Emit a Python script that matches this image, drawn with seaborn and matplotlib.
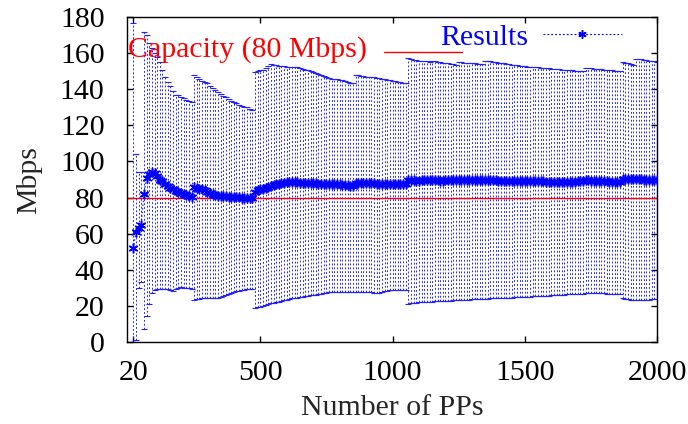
import numpy as np
import matplotlib
matplotlib.use("Agg")
import matplotlib.pyplot as plt
from matplotlib.lines import Line2D
import seaborn as sns

# Number of PPs sampled (every 10 PPs from 20 to 2000)
pps = np.arange(20, 2001, 10)

# Measured throughput (Mbps): mean and min/max range per sample size
mean_mbps = [
    52, 61, 63, 65, 82, 91, 93, 94, 93.5, 92,
    90, 89, 87.5, 86.5, 85.5, 84.5, 83.5, 83, 82.5, 82,
    81.5, 81, 80.5, 86, 85.5, 85, 84.5, 84, 83, 82.5,
    82, 81.5, 81, 81, 80.8, 80.6, 80.5, 80.5, 80.4, 80.3,
    80.2, 80, 79.8, 79.7, 79.6, 79.5, 83.3, 84, 84.5, 85,
    85.5, 86, 86.5, 87, 87.3, 87.6, 88, 88.3, 88.5, 88.7,
    88.8, 88.6, 88.5, 88.3, 88.2, 88, 88, 87.9, 87.8, 87.8,
    87.7, 87.7, 87.6, 87.6, 87.6, 87.5, 87.5, 87.4, 87.3, 87.2,
    87, 86.8, 86.6, 86.5, 87.8, 88, 88, 88, 88, 87.9,
    87.8, 87.8, 87.7, 87.6, 87.6, 87.6, 87.6, 87.6, 87.5, 87.5,
    87.6, 87.6, 87.6, 87.6, 89.5, 89.5, 89.5, 89.4, 89.4, 89.5,
    89.5, 89.5, 89.5, 89.6, 89.5, 89.5, 89.4, 89.4, 89.5, 89.5,
    89.5, 89.5, 89.5, 89.6, 89.6, 89.5, 89.5, 89.5, 89.5, 89.5,
    89.5, 89.5, 89.5, 89.8, 89.8, 89.7, 89.6, 89.5, 89.4, 89.3,
    89.2, 89.1, 89, 89, 88.9, 88.9, 88.9, 88.9, 88.9, 88.9,
    88.9, 88.9, 88.9, 88.9, 88.9, 88.9, 88.8, 88.7, 88.6, 88.5,
    88.5, 88.5, 88.6, 88.6, 88.7, 88.7, 88.8, 88.8, 88.9, 88.9,
    89, 89.5, 89.5, 89.4, 89.3, 89.2, 89.1, 89, 89, 88.9,
    88.8, 88.7, 88.6, 88.5, 88.5, 90.4, 90.3, 90.2, 90.2, 90.1,
    90.3, 90.2, 90.1, 90, 90, 90, 90, 90, 90,
]

max_mbps = [
    177, 104, 94, 94, 172, 170, 166, 163, 160, 158,
    155, 151, 147, 144, 142, 139, 137, 137, 136, 135,
    134, 133.5, 133, 148, 147, 145.5, 144.5, 144, 143.5, 142,
    141, 139.5, 138.5, 137.5, 136.5, 135.5, 134.5, 133.5, 133, 132.5,
    131.5, 131, 130.5, 130, 129, 128.5, 149.5, 150, 150.5, 151,
    152, 153, 154, 153.5, 153.5, 153, 153, 153, 152.5, 152.5,
    152.5, 152.5, 152.5, 152, 151.5, 151, 150.5, 150, 149.5, 149,
    148.5, 148, 147.5, 147, 146.5, 146, 145.5, 145.5, 145, 145,
    144.5, 144, 143.5, 143.5, 148, 148, 147.5, 147.5, 147, 147,
    147, 147, 146.5, 146.5, 146, 145.5, 145, 145, 144.5, 144.5,
    144, 144, 143.5, 143.5, 157.5, 157, 156.5, 156.5, 156, 156,
    155.5, 155.5, 155, 155.5, 155.5, 155, 155, 154.5, 154.5, 154.5,
    154, 154, 153.5, 155, 155, 154.8, 154.6, 154.5, 154.5, 154.4,
    154.3, 154.2, 154.2, 156, 155.8, 155.5, 155.3, 155, 154.8, 154.6,
    154.4, 154.2, 154, 153.7, 153.5, 153.3, 153.1, 153, 152.8, 152.7,
    152.5, 152.4, 152.3, 152.2, 152, 151.9, 151.8, 151.6, 151.5, 151.4,
    151.2, 151.1, 151, 150.9, 150.8, 150.6, 150.5, 150.3, 150.2, 150.1,
    150, 152, 151.9, 151.7, 151.5, 151.4, 151.2, 151.1, 151, 150.8,
    150.7, 150.5, 150.3, 150.2, 150, 155, 154.8, 154.5, 154.2, 153.8,
    157, 156.8, 156.6, 156.4, 156.2, 156, 155.8, 155.6, 155.4,
]

min_mbps = [
    0, 1, 30, 33, 7, 14, 21, 27, 28.5, 29,
    29, 29.5, 29.5, 29, 28.5, 28, 29.5, 30, 30.5, 30,
    30, 30, 29.5, 23, 23.5, 23.5, 24, 24, 24.5, 24.5,
    24, 24, 24.5, 25, 25.5, 26, 26.5, 27, 27.5, 28,
    28, 28.5, 28.5, 29, 29, 29.5, 18.7, 19, 19.5, 20,
    20.5, 21, 21.5, 21.5, 22, 22, 22.5, 23, 23, 23.5,
    24, 24.5, 24.5, 25, 25, 25.5, 25.5, 26, 26, 26,
    26.5, 26.5, 27, 27, 27.5, 27.5, 27.5, 27.5, 27.5, 27.5,
    27.5, 27.5, 27.5, 27.5, 27.5, 27.5, 27.5, 27.5, 27.7, 27.7,
    27.5, 27.2, 27, 27.3, 27.6, 27.9, 28.2, 28.5, 28.7, 28.7,
    28.7, 28.8, 28.8, 28.8, 21, 21.3, 21.5, 21.7, 21.8, 22,
    22, 22, 22.2, 22.3, 22.4, 22.5, 22.5, 22.6, 22.7, 22.8,
    22.8, 22.9, 23, 23, 23.1, 23.2, 23.3, 23.4, 23.5, 23.5,
    23.6, 23.7, 23.8, 23.8, 23.9, 24, 24, 24.1, 24.2, 24.3,
    24.3, 24.4, 24.5, 24.5, 24.6, 24.7, 24.7, 24.8, 24.8, 24.9,
    25, 25.1, 25.2, 25.3, 25.4, 25.5, 25.5, 25.6, 25.7, 25.8,
    25.9, 25.9, 26, 26.1, 26.2, 26.3, 26.4, 26.5, 26.6, 26.7,
    26.7, 26.8, 26.9, 27, 27, 27, 26.9, 26.8, 26.8, 26.7,
    26.7, 26.6, 26.6, 26.5, 26.5, 24, 23.8, 23.6, 23.4, 23.2,
    23, 23.1, 23.2, 23.3, 23.3, 23.4, 23.5, 23.5, 23.6,
]

capacity = 80
x_ticks = [20, 500, 1000, 1500, 2000]
y_ticks = list(range(0, 181, 20))

sns.set_theme(style="ticks")
plt.rcParams["font.family"] = ["Liberation Serif", "DejaVu Serif"]
plt.rcParams["lines.scale_dashes"] = False
FS = 21.5
plt.rcParams["font.size"] = FS

fig = plt.figure(figsize=(6.88, 4.24), dpi=100)
ax = fig.add_axes([0.1842, 0.1941, 0.7708, 0.7651])

mean_arr = np.array(mean_mbps)
lo_arr = np.array(min_mbps)
hi_arr = np.array(max_mbps)
dotted = (0, (1.3, 1.5))

# min/max range of each sample as dotted error bars
eb = ax.errorbar(pps, mean_arr, yerr=[mean_arr - lo_arr, hi_arr - mean_arr],
                 fmt="none", ecolor="#2222ff", elinewidth=0.7,
                 capsize=2.2, capthick=0.8, zorder=2)
for coll in eb[2]:
    coll.set_linestyle(dotted)

# capacity reference line
ax.axhline(capacity, color="red", lw=1.0, zorder=2.5)

# mean throughput with asterisk markers
sns.lineplot(x=pps, y=mean_arr, ax=ax, color="blue", lw=0.8,
             linestyle=":", marker=(6, 2, 0), markersize=7,
             markeredgewidth=1.1, markeredgecolor="blue", zorder=3)

ax.set_xlim(-5, 2000)
ax.set_ylim(0, 180)
ax.set_xticks(x_ticks)
ax.set_yticks(y_ticks)
ax.tick_params(direction="in", length=4.3, width=1.0, top=True, right=True,
               labelsize=FS, colors="black")
ax.tick_params(axis="y", pad=16)
ax.tick_params(axis="x", pad=13)
for s in ax.spines.values():
    s.set_linewidth(1.0)
    s.set_color("black")

ax.set_xlabel("Number of PPs", fontsize=FS, labelpad=7)
ax.set_ylabel("Mbps", fontsize=FS, labelpad=13)

# key
ax.text(0.454, 0.8785, "Capacity (80 Mbps)", transform=ax.transAxes,
        color="red", fontsize=FS, ha="right", va="baseline")
ax.add_line(Line2D([0.485, 0.632], [0.893, 0.893], transform=ax.transAxes,
                   color="red", lw=1.0, clip_on=False))
ax.text(0.757, 0.914, "Results", transform=ax.transAxes,
        color="blue", fontsize=FS, ha="right", va="baseline")
ax.add_line(Line2D([0.785, 0.934], [0.9476, 0.9476], transform=ax.transAxes,
                   color="blue", lw=0.8, linestyle=dotted, clip_on=False))
ax.add_line(Line2D([0.859], [0.9476], transform=ax.transAxes, color="blue",
                   marker=(6, 2, 0), markersize=6, markeredgewidth=1.1,
                   linestyle="none", clip_on=False))

fig.savefig("out.png", dpi=100)
